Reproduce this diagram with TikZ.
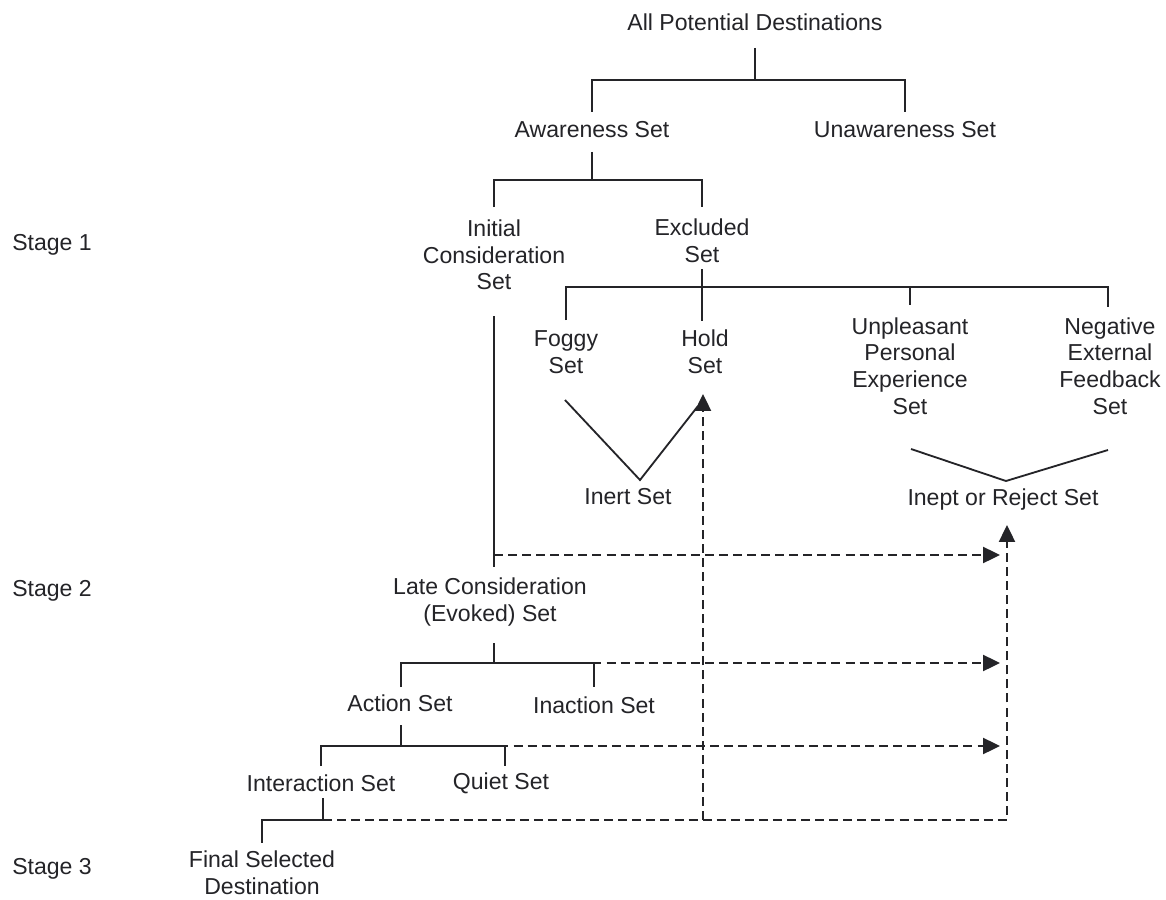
\documentclass[tikz,border=0pt]{standalone}
\usepackage{fontspec}
\setmainfont{Liberation Sans}
\usetikzlibrary{arrows.meta}
\definecolor{ink}{RGB}{36,36,40}
\begin{document}
\begin{tikzpicture}[x=0.025cm,y=-0.025cm,
  lbl/.style={inner sep=0pt, align=center, text=ink, font=\fontsize{16.4}{18.9}\selectfont},
  tree/.style={draw=ink, line width=1.3pt},
  feed/.style={draw=ink, line width=1.3pt, dash pattern=on 6.4pt off 3.6pt},
  tip/.style={-{Triangle[length=12pt,width=11.4pt]}}]
\useasboundingbox[fill=white] (0,0) rectangle (1166,900);

% stage labels
\node[lbl, anchor=west] (s1) at (12,245) {Stage 1};
\node[lbl, anchor=west] (s2) at (12,591) {Stage 2};
\node[lbl, anchor=west] (s3) at (12,869) {Stage 3};

% sets
\node[lbl] (all) at (755,22) {All Potential Destinations};
\node[lbl] (aw) at (592,130) {Awareness Set};
\node[lbl] (unaw) at (905,130) {Unawareness Set};
\node[lbl] (ics) at (494,255) {Initial\\Consideration\\Set};
\node[lbl] (exc) at (702,241) {Excluded\\Set};
\node[lbl] (foggy) at (566,352) {Foggy\\Set};
\node[lbl] (hold) at (705,352) {Hold\\Set};
\node[lbl] (unp) at (910,366) {Unpleasant\\Personal\\Experience\\Set};
\node[lbl] (neg) at (1110,366) {Negative\\External\\Feedback\\Set};
\node[lbl] (inert) at (628,497) {Inert Set};
\node[lbl] (inept) at (1003,500) {Inept or Reject Set};
\node[lbl] (late) at (490,602) {Late Consideration\\(Evoked) Set};
\node[lbl] (action) at (400,703) {Action Set};
\node[lbl] (inaction) at (594,705) {Inaction Set};
\node[lbl] (inter) at (321,783) {Interaction Set};
\node[lbl] (quiet) at (501,783) {Quiet Set};
\node[lbl] (final) at (262,873) {Final Selected\\Destination};

% branching of the sets
\draw[tree] (all |- 0,48) -- (all |- 0,80);
\draw[tree] (aw |- 0,112) -- (aw |- 0,80) -- (unaw |- 0,80) -- (unaw |- 0,112);

\draw[tree] (aw |- 0,152) -- (aw |- 0,180);
\draw[tree] (ics |- 0,207) -- (ics |- 0,180) -- (exc |- 0,180) -- (exc |- 0,207);

\draw[tree] (exc |- 0,269) -- (exc |- 0,321);
\draw[tree] (foggy |- 0,320) -- (foggy |- 0,287) -- (1108,287) -- (1108,307);
\draw[tree] (unp |- 0,287) -- (unp |- 0,305);

\draw[tree] (ics |- 0,316) -- (ics |- 0,567);

\draw[tree] (ics |- 0,643) -- (ics |- 0,663);
\draw[tree] (401,687) -- (401,663) -- (inaction |- 0,663) -- (inaction |- 0,687);

\draw[tree] (401,725) -- (401,746);
\draw[tree] (inter |- 0,766) -- (inter |- 0,746) -- (505,746) -- (505,766);

\draw[tree] (323,798) -- (323,820) -- (final |- 0,820) -- (final |- 0,843);

% merging into inert and inept sets
\draw[tree] (565,400) -- (640,480) -- (698,406);
\draw[tree] (911,449) -- (1006,481) -- (1108,450);

% feedback paths
\coordinate (rj) at (1000,0);
\draw[feed, tip] (ics |- 0,555) -- (rj |- 0,555);
\draw[feed, tip] (ics |- 0,663) -- (rj |- 0,663);
\draw[feed, tip] (401,746) -- (rj |- 0,746);
\draw[feed, tip] (323,820) -- (1007,820) -- (1007,525);
\draw[feed, tip] (703,820) -- (703,394);
\end{tikzpicture}
\end{document}
